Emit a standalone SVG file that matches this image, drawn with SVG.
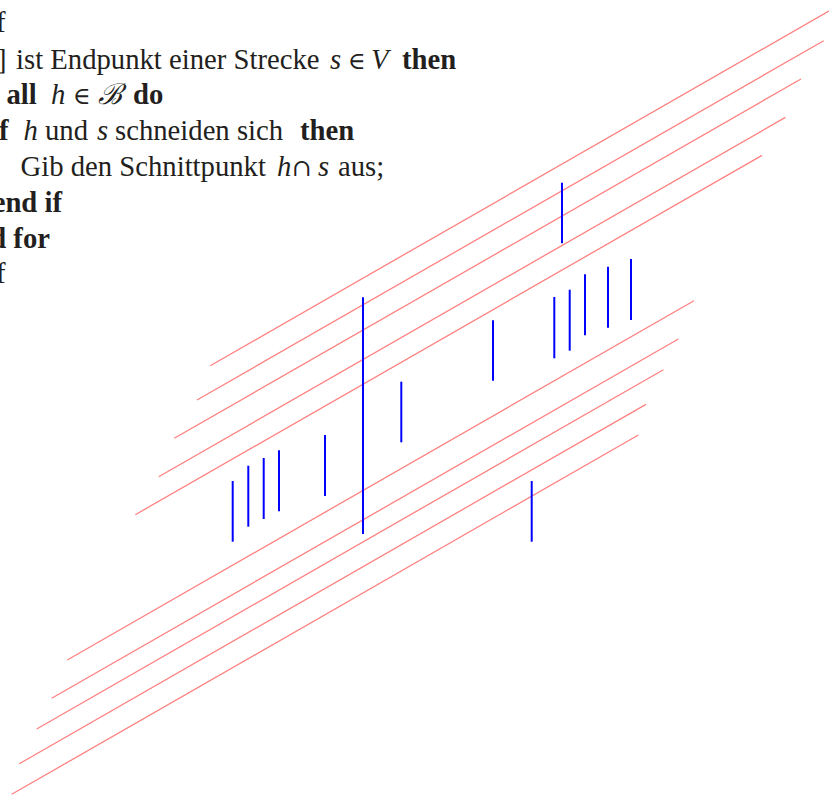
<svg xmlns="http://www.w3.org/2000/svg" width="829" height="798" viewBox="0 0 829 798">
  <style>
    .t { font-family: "Liberation Serif", "Times New Roman", "DejaVu Serif", serif; font-size: 28.7px; fill: #231f20; }
    .b { font-weight: bold; }
    .i { font-style: italic; }
    .m { font-family: "DejaVu Serif", "Liberation Serif", serif; font-size: 24px; }
    .red { stroke: #ff8080; stroke-width: 1.3; fill: none; }
    .blue { stroke: #0000ff; stroke-width: 2; fill: none; }
  </style>
  <rect width="829" height="798" fill="#ffffff"/>
  <g id="text">
    <text class="t" x="-4" y="32">f</text>
    <text class="t" y="69"><tspan x="-3">]</tspan><tspan x="16">ist Endpunkt einer Strecke</tspan><tspan class="i" x="330">s</tspan><tspan class="m" x="348">∈</tspan><tspan class="i" x="371">V</tspan><tspan class="b" x="402">then</tspan></text>
    <text class="t" y="104"><tspan class="b" x="6.5">all</tspan><tspan class="i" x="51">h</tspan><tspan class="m" x="73">∈</tspan><tspan class="i" x="98">ℬ</tspan><tspan class="b" x="133">do</tspan></text>
    <text class="t" y="140"><tspan class="b" x="-1">f</tspan><tspan class="i" x="23.5">h</tspan><tspan x="45">und</tspan><tspan class="i" x="97">s</tspan><tspan x="115">schneiden sich</tspan><tspan class="b" x="300">then</tspan></text>
    <text class="t" y="176"><tspan x="20.5">Gib den Schnittpunkt</tspan><tspan class="i" x="277">h</tspan><tspan class="m" x="292">∩</tspan><tspan class="i" x="318">s</tspan><tspan x="338">aus;</tspan></text>
    <text class="t b" x="62" y="212" text-anchor="end">end if</text>
    <text class="t b" x="50" y="248" text-anchor="end">end for</text>
    <text class="t" x="-4" y="283">f</text>
  </g>
  <g id="lines-red">
    <line class="red" x1="210.3" y1="365.7" x2="837" y2="6.4"/>
    <line class="red" x1="197" y1="400" x2="823.7" y2="40.7"/>
    <line class="red" x1="174.3" y1="438.3" x2="801" y2="79"/>
    <line class="red" x1="158.7" y1="476.7" x2="785.4" y2="117.4"/>
    <line class="red" x1="135.3" y1="514.7" x2="762" y2="155.4"/>
    <line class="red" x1="67.3" y1="660" x2="694" y2="300.7"/>
    <line class="red" x1="51.7" y1="698.3" x2="678.4" y2="339"/>
    <line class="red" x1="36.7" y1="729" x2="663.4" y2="369.7"/>
    <line class="red" x1="19.3" y1="763.7" x2="646" y2="404.4"/>
    <line class="red" x1="11.7" y1="794.3" x2="638.4" y2="435"/>
  </g>
  <g id="segments-blue">
    <line class="blue" x1="232.7" y1="481" x2="232.7" y2="541.7"/>
    <line class="blue" x1="248.3" y1="465.7" x2="248.3" y2="526.7"/>
    <line class="blue" x1="263.7" y1="458" x2="263.7" y2="519"/>
    <line class="blue" x1="279" y1="450.3" x2="279" y2="511.3"/>
    <line class="blue" x1="325" y1="435" x2="325" y2="496"/>
    <line class="blue" x1="363" y1="297.3" x2="363" y2="534"/>
    <line class="blue" x1="401.3" y1="381.7" x2="401.3" y2="442.3"/>
    <line class="blue" x1="493" y1="320.3" x2="493" y2="380.7"/>
    <line class="blue" x1="562" y1="182.7" x2="562" y2="243.3"/>
    <line class="blue" x1="554.3" y1="297" x2="554.3" y2="358.3"/>
    <line class="blue" x1="569.7" y1="289.7" x2="569.7" y2="350.7"/>
    <line class="blue" x1="585" y1="274.3" x2="585" y2="335.3"/>
    <line class="blue" x1="608" y1="266.7" x2="608" y2="327.7"/>
    <line class="blue" x1="631" y1="259" x2="631" y2="320"/>
    <line class="blue" x1="531.7" y1="481" x2="531.7" y2="541.7"/>
  </g>
</svg>
